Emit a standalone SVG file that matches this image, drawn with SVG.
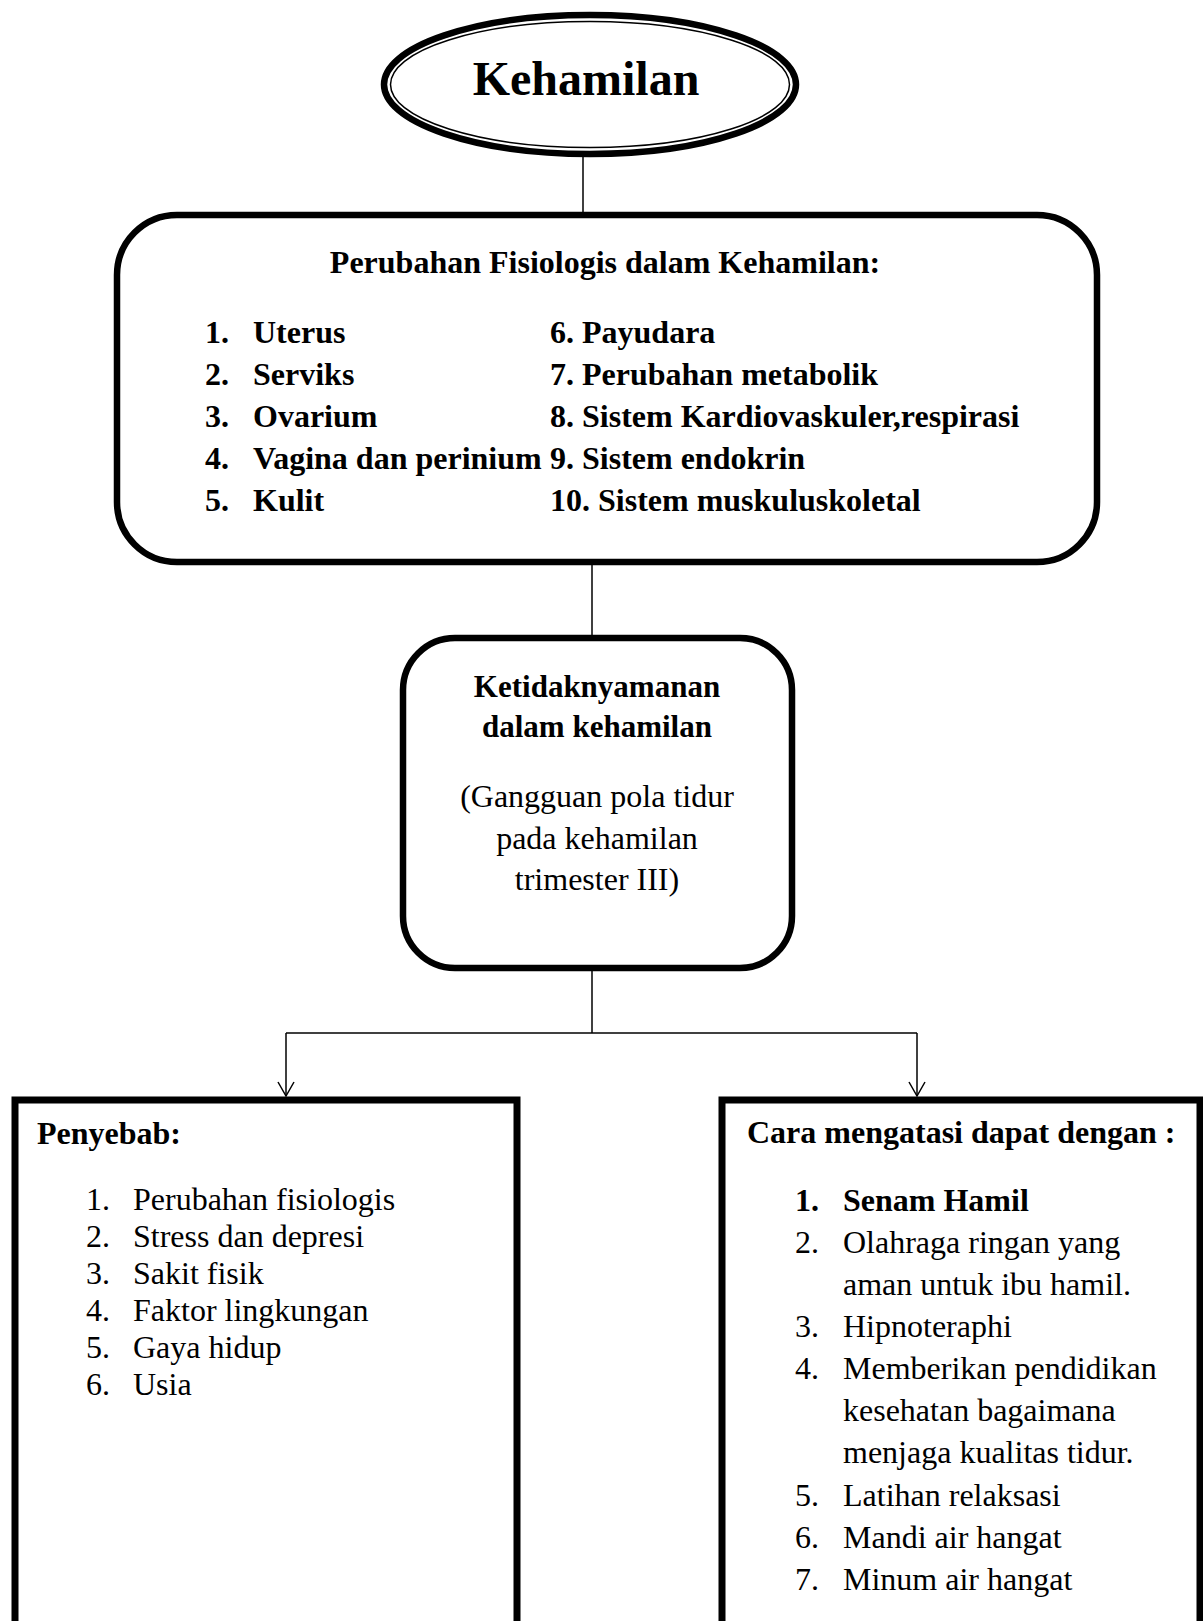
<svg xmlns="http://www.w3.org/2000/svg" width="1203" height="1621" viewBox="0 0 1203 1621">
<style>
text{font-family:"Liberation Serif","Times New Roman",serif;fill:#000;font-size:32px}
.b{font-weight:bold}
.c{text-anchor:middle}
.box{fill:#fff;stroke:#000;stroke-width:6.5}
.ln{fill:none;stroke:#000;stroke-width:1.5}
</style>
<defs>
<marker id="v" viewBox="-16 -10 18 20" markerWidth="18" markerHeight="20" refX="0" refY="0" orient="auto" markerUnits="userSpaceOnUse" overflow="visible">
<path d="M-14,-8 L0,0 L-14,8" fill="none" stroke="#000" stroke-width="1.5"/>
</marker>
</defs>
<rect width="1203" height="1621" fill="#fff"/>
<g id="connectors">
<line class="ln" x1="583" y1="157" x2="583" y2="212"/>
<line class="ln" x1="592" y1="565" x2="592" y2="635"/>
<line class="ln" x1="592" y1="971" x2="592" y2="1033"/>
<line class="ln" x1="286" y1="1033" x2="917" y2="1033"/>
<line class="ln" x1="286" y1="1033" x2="286" y2="1096" marker-end="url(#v)"/>
<line class="ln" x1="917" y1="1033" x2="917" y2="1096" marker-end="url(#v)"/>
</g>
<g id="kehamilan">
<ellipse cx="590" cy="84.5" rx="206" ry="69.5" fill="#fff" stroke="#000" stroke-width="6.5"/>
<ellipse cx="590" cy="84.5" rx="199.5" ry="63" fill="none" stroke="#000" stroke-width="1.5"/>
<text class="b c" x="586" y="95" style="font-size:48px">Kehamilan</text>
</g>
<g id="perubahan">
<rect class="box" x="117" y="215" width="980" height="347" rx="60" ry="60"/>
<text class="b c" x="605" y="273">Perubahan Fisiologis dalam Kehamilan:</text>
<g class="b">
<text class="b" x="205" y="343">1.</text><text class="b" x="253" y="343">Uterus</text>
<text class="b" x="205" y="385">2.</text><text class="b" x="253" y="385">Serviks</text>
<text class="b" x="205" y="427">3.</text><text class="b" x="253" y="427">Ovarium</text>
<text class="b" x="205" y="469">4.</text><text class="b" x="253" y="469">Vagina dan perinium</text>
<text class="b" x="205" y="511">5.</text><text class="b" x="253" y="511">Kulit</text>
<text class="b" x="550" y="343">6. Payudara</text>
<text class="b" x="550" y="385">7. Perubahan metabolik</text>
<text class="b" x="550" y="427">8. Sistem Kardiovaskuler,respirasi</text>
<text class="b" x="550" y="469">9. Sistem endokrin</text>
<text class="b" x="550" y="511">10. Sistem muskuluskoletal</text>
</g>
</g>
<g id="ketidaknyamanan">
<rect class="box" x="403" y="638" width="389" height="330" rx="52" ry="52"/>
<text class="b c" x="597" y="697" style="font-size:31px">Ketidaknyamanan</text>
<text class="b c" x="597" y="737" style="font-size:31px">dalam kehamilan</text>
<text class="c" x="597" y="807">(Gangguan pola tidur</text>
<text class="c" x="597" y="849">pada kehamilan</text>
<text class="c" x="597" y="890">trimester III)</text>
</g>
<g id="penyebab">
<rect class="box" x="15" y="1100" width="502" height="560" style="stroke-width:7"/>
<text class="b" x="37" y="1144">Penyebab:</text>
<text x="86" y="1210">1.</text><text x="133" y="1210">Perubahan fisiologis</text>
<text x="86" y="1247">2.</text><text x="133" y="1247">Stress dan depresi</text>
<text x="86" y="1284">3.</text><text x="133" y="1284">Sakit fisik</text>
<text x="86" y="1321">4.</text><text x="133" y="1321">Faktor lingkungan</text>
<text x="86" y="1358">5.</text><text x="133" y="1358">Gaya hidup</text>
<text x="86" y="1395">6.</text><text x="133" y="1395">Usia</text>
</g>
<g id="cara">
<rect class="box" x="722" y="1100" width="478" height="560" style="stroke-width:7"/>
<text class="b" x="747" y="1143">Cara mengatasi dapat dengan :</text>
<text class="b" x="795" y="1211">1.</text><text class="b" x="843" y="1211">Senam Hamil</text>
<text x="795" y="1253">2.</text><text x="843" y="1253">Olahraga ringan yang</text>
<text x="843" y="1295">aman untuk ibu hamil.</text>
<text x="795" y="1337">3.</text><text x="843" y="1337">Hipnoteraphi</text>
<text x="795" y="1379">4.</text><text x="843" y="1379">Memberikan pendidikan</text>
<text x="843" y="1421">kesehatan bagaimana</text>
<text x="843" y="1463">menjaga kualitas tidur.</text>
<text x="795" y="1506">5.</text><text x="843" y="1506">Latihan relaksasi</text>
<text x="795" y="1548">6.</text><text x="843" y="1548">Mandi air hangat</text>
<text x="795" y="1590">7.</text><text x="843" y="1590">Minum air hangat</text>
</g>
</svg>
